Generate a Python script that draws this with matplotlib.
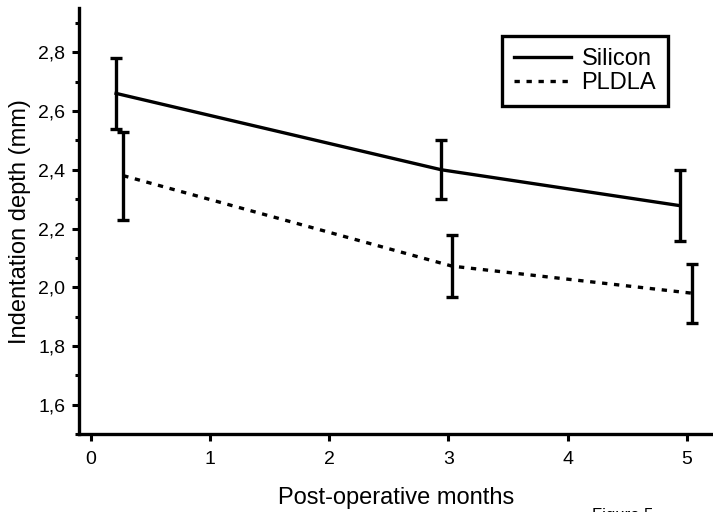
import numpy as np
import matplotlib.pyplot as plt
from matplotlib.lines import Line2D
from matplotlib.ticker import MultipleLocator, FuncFormatter

plt.rcParams['font.family'] = ['Liberation Sans', 'DejaVu Sans']

# Indentation depth vs post-operative months
x_sil = [0.21, 2.94, 4.94]
y_sil = [2.66, 2.40, 2.278]
e_sil = [0.12, 0.10, 0.12]

x_pl = [0.27, 3.03, 5.04]
y_pl = [2.38, 2.072, 1.98]
e_pl = [0.15, 0.105, 0.10]

dots = (0, (1.6, 2.0))

fig = plt.figure(figsize=(7.13, 5.12), dpi=100)
ax = fig.add_axes([0.111, 0.152, 0.889, 0.832])

ax.errorbar(x_sil, y_sil, yerr=e_sil, color='black', lw=2.4, elinewidth=2.4,
            capsize=4.5, capthick=2.4)
ax.errorbar(x_pl, y_pl, yerr=e_pl, color='black', lw=2.4, elinewidth=2.4,
            capsize=4.5, capthick=2.4, ls=dots)

ax.set_xlim(-0.1, 5.22)
ax.set_ylim(1.5, 2.95)
ax.set_xticks([0, 1, 2, 3, 4, 5])
ax.yaxis.set_minor_locator(MultipleLocator(0.1))
ax.set_yticks(np.arange(1.6, 2.81, 0.2))
ax.yaxis.set_major_formatter(FuncFormatter(lambda v, p: f'{v:.1f}'.replace('.', ',')))

for s in ['top', 'right']:
    ax.spines[s].set_visible(False)
for s in ['left', 'bottom']:
    ax.spines[s].set_linewidth(2.4)

ax.tick_params(axis='both', which='major', direction='out', length=5, width=2.2,
               labelsize=14, pad=5)
ax.tick_params(axis='x', which='major', pad=7)
ax.tick_params(axis='y', which='minor', direction='out', length=3, width=2.2)

ax.set_xlabel('Post-operative months', fontsize=17, labelpad=14)
ax.set_ylabel('Indentation depth (mm)', fontsize=17, labelpad=5)

handles = [Line2D([], [], color='black', lw=2.4),
           Line2D([], [], color='black', lw=2.4, ls=dots)]
leg = ax.legend(handles, ['Silicon', 'PLDLA'], loc='upper right',
                bbox_to_anchor=(0.929, 0.934), borderaxespad=0,
                fontsize=17, fancybox=False, edgecolor='black', handlelength=2.4,
                handletextpad=0.45, labelspacing=0.1, borderpad=0.5, framealpha=1)
leg.get_frame().set_linewidth(2.4)

fig.text(0.830, -0.016, 'Figure 5', fontsize=12, va='baseline')

plt.savefig('out.png', dpi=100)
